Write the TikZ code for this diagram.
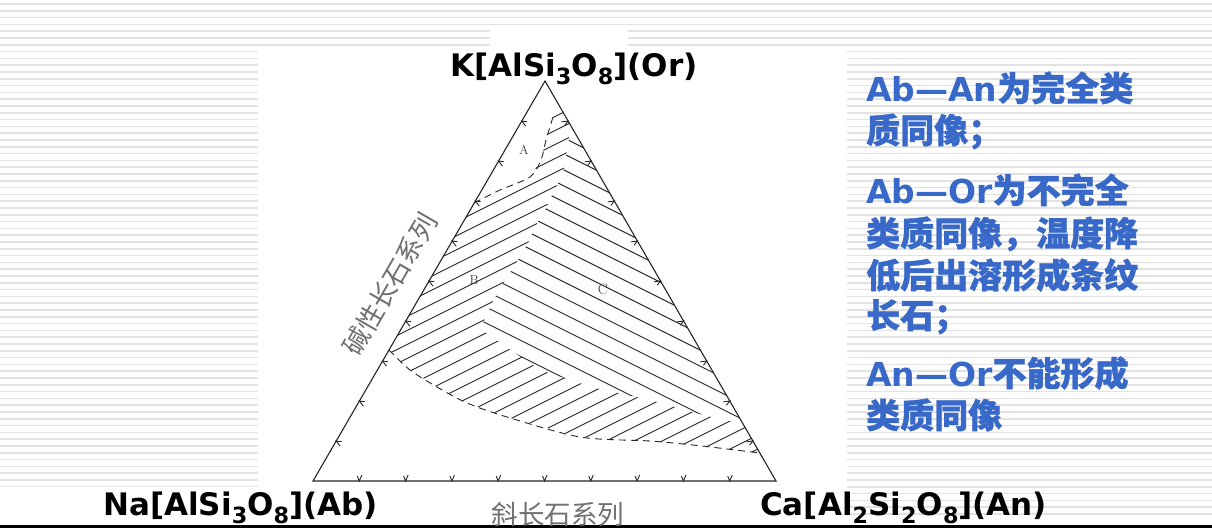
\documentclass[tikz,border=0pt]{standalone}
\usepackage{fontspec}
\usetikzlibrary{calc}
\newfontfamily\vf{DejaVu Sans}
\newfontfamily\cjk{Noto Sans CJK SC}
\newfontfamily\cjkb{Noto Sans CJK SC}[FakeBold=1.2]
\definecolor{stripe}{HTML}{E2E2E2}
\definecolor{txtblue}{HTML}{3868C8}
\definecolor{cjkgrey}{HTML}{707070}
\newcommand\mysub[1]{\raisebox{-0.27em}{\scalebox{0.72}{#1}}}
\tikzset{
  stripeline/.style={draw=stripe, line width=1.6pt},
  tri/.style={draw=black!85, line width=1.1pt},
  hatch/.style={draw=black!85, line width=0.9pt},
  bnd/.style={draw=black!85, line width=0.9pt, dash pattern=on 7pt off 5pt},
  tickmark/.style={draw=black!85, line width=0.9pt},
  bluetxt/.style={text=txtblue, anchor=base west, inner sep=0pt},
  formula/.style={anchor=base west, inner sep=0pt, font=\vf\bfseries\fontsize{31}{36}\selectfont},
  greycjk/.style={text=cjkgrey, inner sep=0pt, font=\cjk\fontsize{26.5}{30}\selectfont},
  reglabel/.style={text=black!75, inner sep=0pt, font=\fontsize{13}{14}\selectfont},
}
\newcommand\lat{\vf\bfseries\fontsize{33}{40}\selectfont}
\newcommand\han{\cjkb\bfseries\fontsize{34}{40}\selectfont}
\begin{document}
\begin{tikzpicture}[x=1pt,y=-1pt]
\useasboundingbox (0,0) rectangle (1212,528);
% background stripes
\foreach \i in {0,...,75} \draw[stripeline] (0,{4+6.8*\i}) -- (1212,{4+6.8*\i});
\fill[white] (258,49) rectangle (847,528);
\fill[white] (490,28) rectangle (628,49);
\fill[white] (0,487) rectangle (258,528);
\fill[white] (847,517) rectangle (1212,528);
\draw[black, line width=2.2pt] (0,526.5) -- (1212,526.5);

% triangle corners
\coordinate (Or) at (545,81);
\coordinate (Ab) at (313,481);
\coordinate (An) at (776,481);

% hatched field B
\begin{scope}
\clip (474,203) -- (500,190) -- (530,177) -- (541,160) -- (546,140) -- (553,117) -- (558,104)
  -- (571,126) -- (567,150) -- (563,173) -- (553,193) -- (545,210) -- (535,227) -- (528,243)
  -- (515,265) -- (500,288) -- (492,303) -- (482,325) -- (486,333) -- (540,370) -- (595,388)
  -- (650,400) -- (707,416) -- (743,424) -- (760,453) -- (727,449) -- (693,445) -- (650,441)
  -- (580,437) -- (507,417) -- (467,403) -- (437,387) -- (410,370) -- (389,350) -- cycle;
\foreach \c in {380,394,...,850} \draw[hatch] (380,{\c-190}) -- (780,{\c-390});
\end{scope}
% hatched field C
\begin{scope}
\clip (571,126) -- (743,424) -- (707,416) -- (650,400) -- (595,388) -- (540,370) -- (486,333)
  -- (482,325) -- (492,303) -- (500,288) -- (515,265) -- (528,243) -- (535,227) -- (545,210)
  -- (553,193) -- (563,173) -- (567,150) -- cycle;
\foreach \c in {-160,-144,...,100} \draw[hatch] (470,{\c+235}) -- (790,{\c+395});
\end{scope}
% field boundaries
\draw[bnd] plot[smooth] coordinates {(474,203) (500,190) (530,177) (541,160) (546,140) (553,117)};
\draw[bnd] plot[smooth] coordinates {(389,350) (410,370) (437,387) (467,403) (507,417) (580,437) (650,441) (693,445) (727,449) (760,453)};

% triangle
\draw[tri] (Or) -- (Ab) -- (An) -- cycle;
% ticks
\foreach \k in {1,...,9} {
  \coordinate (tb) at ($(Ab)!\k/10!(An)$);
  \draw[tickmark, shift={(tb)}] (-2,-5) -- (0,0) -- (2.5,-6);
  \coordinate (tl) at ($(Ab)!\k/10!(Or)$);
  \draw[tickmark, shift={(tl)}, rotate=-120] (-2,-5) -- (0,0) -- (2.5,-6);
  \coordinate (tr) at ($(An)!\k/10!(Or)$);
  \draw[tickmark, shift={(tr)}, rotate=120] (-2,-5) -- (0,0) -- (2.5,-6);
}

% field labels
\node[reglabel] (la) at (524,150) {A};
\node[reglabel] (lb) at (474,280) {B};
\node[reglabel, font=\fontsize{15}{16}\selectfont] (lc) at (603,289) {C};

% corner labels
\node[formula] (kor) at (450,76) {K[AlSi\mysub{3}O\mysub{8}](Or)};
\node[formula] (kab) at (103,515) {Na[AlSi\mysub{3}O\mysub{8}](Ab)};
\node[formula] (kan) at (760,515) {Ca[Al\mysub{2}Si\mysub{2}O\mysub{8}](An)};

% series labels
\node[greycjk] (ser1) at (558,514) {斜长石系列};
\node[greycjk, rotate=60] (ser2) at (390,284) {碱性长石系列};

% right-hand notes
\node[bluetxt] (t1) at (866,101) {\lat Ab—An\han 为完全类};
\node[bluetxt] (t2) at (866,143) {\han 质同像；};
\node[bluetxt] (t3) at (866,203) {\lat Ab—Or\han 为不完全};
\node[bluetxt] (t4) at (866,246) {\han 类质同像，温度降};
\node[bluetxt] (t5) at (866,288) {\han 低后出溶形成条纹};
\node[bluetxt] (t6) at (866,328) {\han 长石；};
\node[bluetxt] (t7) at (866,386) {\lat An—Or\han 不能形成};
\node[bluetxt] (t8) at (866,428) {\han 类质同像};
\end{tikzpicture}
\end{document}
